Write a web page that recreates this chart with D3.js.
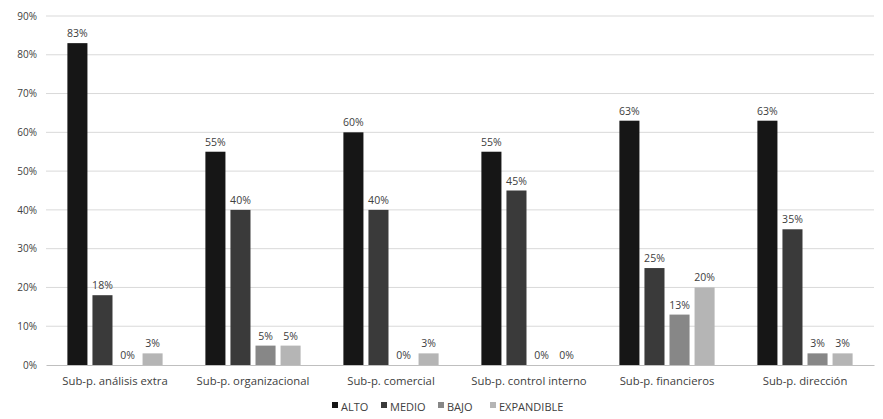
<!DOCTYPE html>
<html>
<head>
<meta charset="utf-8">
<script src="https://cdn.jsdelivr.net/npm/d3@7"></script>
<style>
  body { margin: 0; background: #fff; }
  text { font-family: "Open Sans", "Liberation Sans", sans-serif; fill: #404040; }
</style>
</head>
<body>
<div id="chart"></div>
<script>
// data
const categories = ["Sub-p. análisis extra", "Sub-p. organizacional", "Sub-p. comercial",
    "Sub-p. control interno", "Sub-p. financieros", "Sub-p. dirección"];
const seriesNames = ["ALTO", "MEDIO", "BAJO", "EXPANDIBLE"];
const alto = [83, 55, 60, 55, 63, 63];
const medio = [18, 40, 40, 45, 25, 35];
const bajo = [0, 5, 0, 0, 13, 3];
const expandible = [3, 5, 3, 0, 20, 3];
const yTicks = [0, 10, 20, 30, 40, 50, 60, 70, 80, 90];

const colors = ["#161616", "#3a3a3a", "#878787", "#b5b5b5"];
const allSeries = [alto, medio, bajo, expandible];

const W = 883, H = 419;
const margin = {top: 16, right: 9, bottom: 54, left: 46},
    width = W - margin.left - margin.right,
    height = H - margin.top - margin.bottom;

const svg = d3.select("#chart")
    .append("svg")
    .attr("width", W)
    .attr("height", H)
    .append("g")
    .attr("transform", `translate(${margin.left},${margin.top})`);

const x0 = d3.scaleBand()
    .domain(categories)
    .range([0, width])
    .paddingInner(0.31)
    .paddingOuter(0.155);

const x1 = d3.scaleBand()
    .domain(seriesNames)
    .range([0, x0.bandwidth()])
    .paddingInner(0.2)
    .paddingOuter(0);

const y = d3.scaleLinear()
    .domain([0, 90])
    .range([height, 0]);

// grid lines
svg.append("g")
    .selectAll("line")
    .data(yTicks.slice(1))
    .join("line")
    .attr("x1", 0)
    .attr("x2", width)
    .attr("y1", d => y(d))
    .attr("y2", d => y(d))
    .attr("stroke", "#d9d9d9")
    .attr("stroke-width", 1);

// y axis labels
const yAxis = svg.append("g")
    .call(d3.axisLeft(y).tickValues(yTicks).tickFormat(d => d + "%").tickSize(0).tickPadding(9));
yAxis.select(".domain").remove();
yAxis.selectAll("text").style("font-size", "10px").attr("fill", "#404040");

// x axis
const xAxis = svg.append("g")
    .attr("transform", `translate(0,${height})`)
    .call(d3.axisBottom(x0).tickSize(0).tickPadding(12));
xAxis.select(".domain").attr("stroke", "#bfbfbf");
xAxis.selectAll("text").style("font-size", "11.3px").attr("fill", "#404040");

// bars
const groups = svg.append("g")
    .selectAll("g")
    .data(categories)
    .join("g")
    .attr("transform", d => `translate(${x0(d)},0)`);

groups.selectAll("rect")
    .data((c, i) => seriesNames.map((s, k) => ({s: s, v: allSeries[k][i], k: k})))
    .join("rect")
    .attr("x", d => x1(d.s))
    .attr("y", d => y(d.v))
    .attr("width", x1.bandwidth())
    .attr("height", d => height - y(d.v))
    .attr("fill", d => colors[d.k]);

groups.selectAll("text.lbl")
    .data((c, i) => seriesNames.map((s, k) => ({s: s, v: allSeries[k][i], k: k})))
    .join("text")
    .attr("class", "lbl")
    .attr("x", d => x1(d.s) + x1.bandwidth() / 2)
    .attr("y", d => y(d.v) - 6)
    .attr("text-anchor", "middle")
    .style("font-size", "10.5px")
    .text(d => d.v + "%");

// legend
const legend = svg.append("g")
    .attr("transform", `translate(0,${height + 42})`);
const legendX = [286, 335, 392, 444];
seriesNames.forEach((s, k) => {
    const g = legend.append("g").attr("transform", `translate(${legendX[k]},0)`);
    g.append("rect")
        .attr("x", 0).attr("y", -5)
        .attr("width", 6).attr("height", 6)
        .attr("fill", colors[k]);
    g.append("text")
        .attr("x", 9).attr("y", 1)
        .attr("dominant-baseline", "middle")
        .style("font-size", "11px")
        .text(s);
});
</script>
</body>
</html>
